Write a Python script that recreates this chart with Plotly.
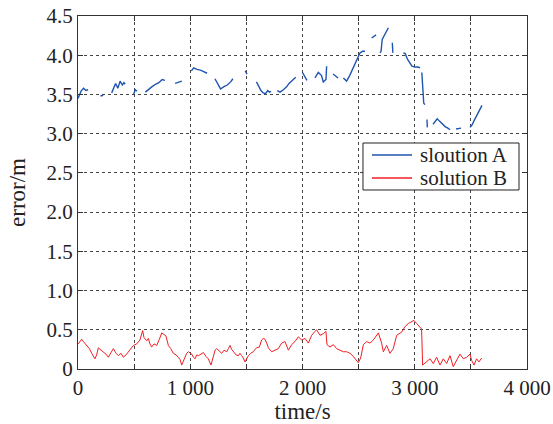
import plotly.graph_objects as go

# ---- data ----
# solution A ("sloution A" in the legend): segmented trace, None = gap
time_a = [0, 15, 30, 50, 70, 90, None,
          200, 225, None,
          300, 315, 335, 355, 375, 395, 410, 420, None,
          495, 510, 525, None,
          600, 630, 660, 690, 720, 750, 775, None,
          865, 895, 925, None,
          1010, 1030, 1060, 1090, 1120, 1150, None,
          1220, 1250, 1270, 1300, 1330, 1360, 1380, None,
          1490, 1505, None,
          1590, 1610, 1630, 1650, 1670, 1690, 1705, 1720, None,
          1775, 1800, 1830, 1860, 1880, 1910, 1940, None,
          2000, 2020, 2040, None,
          2111, 2141, 2170, 2185, 2209, 2215, None,
          2272, 2295, 2317, None,
          2364, 2393, 2420, 2450, 2480, 2512, 2535, 2557, None,
          2616, 2655, None,
          2690, 2700, 2710, 2730, 2750, 2765, None,
          2800, 2805, None,
          2898, 2915, 2935, 2955, 2975, 3000, 3025, 3047, None,
          3063, 3068, 3074, 3080, 3090, None,
          3109, 3112, None,
          3163, 3180, 3200, 3220, 3245, 3270, 3295, 3314, None,
          3368, 3412, None,
          3492, 3510, 3530, 3555, 3580, 3599]
err_a = [3.45, 3.50, 3.55, 3.58, 3.55, 3.56, None,
         3.48, 3.49, None,
         3.52, 3.58, 3.64, 3.58, 3.67, 3.62, 3.65, 3.63, None,
         3.50, 3.56, 3.54, None,
         3.53, 3.57, 3.60, 3.63, 3.65, 3.69, 3.68, None,
         3.64, 3.66, 3.67, None,
         3.80, 3.84, 3.82, 3.81, 3.79, 3.77, None,
         3.70, 3.62, 3.57, 3.60, 3.62, 3.66, 3.70, None,
         3.80, 3.76, None,
         3.66, 3.60, 3.55, 3.52, 3.51, 3.55, 3.53, 3.54, None,
         3.55, 3.53, 3.56, 3.60, 3.64, 3.68, 3.72, None,
         3.78, 3.72, 3.68, None,
         3.71, 3.78, 3.74, 3.66, 3.69, 3.86, None,
         3.76, 3.73, 3.71, None,
         3.71, 3.67, 3.74, 3.84, 3.94, 4.03, 4.05, 4.05, None,
         4.22, 4.26, None,
         4.03, 4.05, 4.20, 4.26, 4.31, 4.35, None,
         4.16, 4.03, None,
         4.03, 4.02, 3.95, 3.90, 3.86, 3.85, 3.85, 3.84, None,
         3.78, 3.65, 3.50, 3.39, 3.37, None,
         3.18, 3.08, None,
         3.12, 3.15, 3.19, 3.16, 3.12, 3.09, 3.07, 3.05, None,
         3.06, 3.07, None,
         3.08, 3.11, 3.17, 3.24, 3.30, 3.36]

# solution B
time_b = [3, 33, 48, 77, 101, 122, 151, 166, 181, 205, 226, 249, 270, 294, 315,
          339, 359, 383, 404, 428, 448, 472, 493, 523, 552, 576, 588, 612, 627,
          641, 656, 677, 701, 725, 746, 766, 784, 805, 826, 849, 873, 894, 909,
          924, 939, 953, 968, 983, 998, 1013, 1028, 1043, 1057, 1072, 1096, 1117,
          1140, 1161, 1185, 1200, 1221, 1236, 1250, 1280, 1301, 1325, 1340, 1354,
          1369, 1384, 1408, 1429, 1443, 1458, 1473, 1488, 1503, 1518, 1539, 1562,
          1577, 1592, 1616, 1636, 1651, 1666, 1681, 1696, 1725, 1755, 1785, 1814,
          1844, 1874, 1903, 1933, 1963, 1993, 2022, 2052, 2082, 2111, 2126, 2156,
          2186, 2209, 2218, 2245, 2275, 2304, 2334, 2364, 2394, 2423, 2453, 2483,
          2497, 2518, 2542, 2572, 2601, 2631, 2661, 2676, 2705, 2720, 2750, 2779,
          2809, 2839, 2883, 2913, 2943, 2972, 2993, 3017, 3047, 3061, 3070, 3106,
          3136, 3165, 3195, 3225, 3254, 3284, 3314, 3343, 3373, 3403, 3433, 3462,
          3492, 3507, 3528, 3551, 3572, 3596]
err_b = [0.32, 0.38, 0.35, 0.30, 0.26, 0.20, 0.13, 0.18, 0.27, 0.24, 0.22, 0.19,
         0.15, 0.22, 0.26, 0.20, 0.17, 0.20, 0.15, 0.18, 0.22, 0.26, 0.30, 0.32,
         0.37, 0.49, 0.40, 0.36, 0.39, 0.32, 0.28, 0.32, 0.30, 0.38, 0.46, 0.44,
         0.42, 0.30, 0.26, 0.20, 0.18, 0.15, 0.12, 0.05, 0.10, 0.13, 0.20, 0.22,
         0.21, 0.19, 0.15, 0.13, 0.18, 0.17, 0.19, 0.21, 0.16, 0.13, 0.05, 0.12,
         0.24, 0.26, 0.24, 0.20, 0.24, 0.22, 0.26, 0.30, 0.25, 0.22, 0.18, 0.17,
         0.20, 0.17, 0.14, 0.09, 0.13, 0.17, 0.20, 0.22, 0.25, 0.27, 0.28, 0.37,
         0.39, 0.38, 0.33, 0.27, 0.22, 0.24, 0.26, 0.33, 0.35, 0.24, 0.31, 0.35,
         0.41, 0.37, 0.39, 0.33, 0.43, 0.48, 0.50, 0.43, 0.45, 0.48, 0.31, 0.28,
         0.31, 0.26, 0.24, 0.22, 0.22, 0.20, 0.16, 0.11, 0.08, 0.14, 0.31, 0.35,
         0.33, 0.37, 0.43, 0.46, 0.33, 0.22, 0.30, 0.20, 0.26, 0.43, 0.47, 0.54,
         0.58, 0.60, 0.62, 0.58, 0.54, 0.51, 0.05, 0.09, 0.13, 0.07, 0.15, 0.05,
         0.13, 0.07, 0.17, 0.03, 0.11, 0.19, 0.13, 0.15, 0.19, 0.11, 0.05, 0.13,
         0.09, 0.14]

series_names = ["sloution A", "solution B"]
series_colors = ["#1f55b0", "#f01e23"]

x_tick_vals = [0, 500, 1000, 1500, 2000, 2500, 3000, 3500, 4000]
x_tick_text = ["0", "", "1 000", "", "2 000", "", "3 000", "", "4 000"]
y_tick_vals = [0, 0.5, 1.0, 1.5, 2.0, 2.5, 3.0, 3.5, 4.0, 4.5]
y_tick_text = ["0", "0.5", "1.0", "1.5", "2.0", "2.5", "3.0", "3.5", "4.0", "4.5"]

FONT = "Liberation Serif, Times New Roman, serif"
TXT = "#222222"

fig = go.Figure()
fig.add_trace(go.Scatter(x=time_a, y=err_a, mode="lines", name=series_names[0],
                         line=dict(color=series_colors[0], width=1.4),
                         connectgaps=False, showlegend=False))
fig.add_trace(go.Scatter(x=time_b, y=err_b, mode="lines", name=series_names[1],
                         line=dict(color=series_colors[1], width=1.0),
                         showlegend=False))

axis_common = dict(
    showline=True, linecolor="#333333", linewidth=1, mirror="ticks",
    ticks="inside", ticklen=5, tickcolor="#333333",
    showgrid=True, gridcolor="#444444", gridwidth=1, griddash="3px,3px",
    zeroline=False, automargin=False,
    tickfont=dict(family=FONT, size=21, color=TXT),
)

fig.update_xaxes(range=[0, 4000], tickmode="array", tickvals=x_tick_vals,
                 ticktext=x_tick_text,
                 title=dict(text="time/s", font=dict(family=FONT, size=23, color=TXT),
                            standoff=6),
                 **axis_common)
fig.update_yaxes(range=[0, 4.5], tickmode="array", tickvals=y_tick_vals,
                 ticktext=y_tick_text,
                 title=dict(text="error/m", font=dict(family=FONT, size=23, color=TXT),
                            standoff=14),
                 **axis_common)

# compact MATLAB-style legend box (paper coordinates)
box_x0, box_x1, box_y0, box_y1 = 0.6347, 0.9822, 0.5071, 0.6402
line_x0, line_x1, text_x = 0.6548, 0.7439, 0.7572
row_y = [0.6062, 0.5411]
shapes = [dict(type="rect", xref="paper", yref="paper", x0=box_x0, x1=box_x1,
               y0=box_y0, y1=box_y1, fillcolor="white",
               line=dict(color="#222222", width=1), layer="above")]
annotations = []
for name, color, yy in zip(series_names, series_colors, row_y):
    shapes.append(dict(type="line", xref="paper", yref="paper", x0=line_x0, x1=line_x1,
                       y0=yy, y1=yy, line=dict(color=color, width=1.4), layer="above"))
    annotations.append(dict(xref="paper", yref="paper", x=text_x, y=yy, text=name,
                            showarrow=False, xanchor="left", yanchor="middle",
                            font=dict(family=FONT, size=21, color=TXT)))

fig.update_layout(
    width=553, height=424,
    margin=dict(l=78, r=26, t=16, b=55),
    paper_bgcolor="white", plot_bgcolor="white",
    showlegend=False,
    shapes=shapes, annotations=annotations,
)

fig.write_html("out.html",
               config={"displayModeBar": False},
               post_script="document.body.style.margin='0';document.body.style.padding='0';")
